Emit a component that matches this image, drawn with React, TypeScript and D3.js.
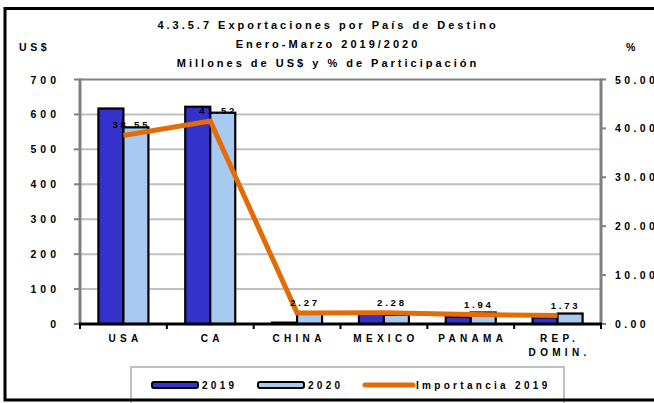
import React from 'react';
import * as d3 from 'd3';

// chart data
const categories = ['USA', 'CA', 'CHINA', 'MEXICO', 'PANAMA', 'REP. DOMIN.'];
const categoryLines = [['USA'], ['CA'], ['CHINA'], ['MEXICO'], ['PANAMA'], ['REP.', 'DOMIN.']];
const series = ['2019', '2020'];
const values2019 = [617, 622, 4, 28, 21, 19];
const values2020 = [563, 605, 30, 26, 33, 30];
const importancia2019 = [38.55, 41.52, 2.27, 2.28, 1.94, 1.73];
const leftTicks = [0, 100, 200, 300, 400, 500, 600, 700];
const rightTicks = [0, 10, 20, 30, 40, 50];
const titleLines = [
  '4.3.5.7 Exportaciones por País de Destino',
  'Enero-Marzo 2019/2020',
  'Millones de US$ y % de Participación',
];

const W = 654;
const H = 403;
const margin = { top: 79.5, right: 53, bottom: 79, left: 80 };
const FONT = '"Liberation Sans", Arial, sans-serif';
const C2019 = '#3333CC';
const C2020 = '#A6CAF0';
const ORANGE = '#E36C09';

export default function App() {
  const x0 = margin.left;
  const x1 = W - margin.right;
  const yTop = margin.top;
  const yBot = H - margin.bottom;

  const x = d3.scaleBand().domain(categories).range([x0, x1]).paddingInner(0.424).paddingOuter(0.212);
  const xs = d3.scaleBand().domain(series).range([0, x.bandwidth()]);
  const y = d3.scaleLinear().domain([0, 700]).range([yBot, yTop]);
  const y2 = d3.scaleLinear().domain([0, 50]).range([yBot, yTop]);
  const step = x.step();

  const line = d3.line<number>()
    .x((d, i) => (x(categories[i]) as number) + x.bandwidth() / 2)
    .y(d => y2(d));

  const bars = categories.flatMap((c, i) => [
    { c, s: '2019', v: values2019[i], fill: C2019 },
    { c, s: '2020', v: values2020[i], fill: C2020 },
  ]);

  const txt = { fontFamily: FONT, fontWeight: 700 as const };

  return (
    <svg width={W} height={H} style={{ position: 'absolute', left: 0, top: 0, background: '#fff' }}>
      {/* titles */}
      {titleLines.map((t, i) => (
        <text key={t} x={328} y={29 + i * 19} textAnchor="middle" fontSize={11} letterSpacing={3} {...txt}>{t}</text>
      ))}
      <text x={19} y={51} fontSize={10.5} letterSpacing={3.6} {...txt}>US$</text>
      <text x={626} y={51} fontSize={10.5} letterSpacing={2.5} {...txt}>%</text>

      {/* grid */}
      {leftTicks.slice(1, -1).map(t => (
        <line key={t} x1={x0} x2={x1} y1={y(t)} y2={y(t)} stroke="#C0C0C0" strokeWidth={2} />
      ))}
      <line x1={x0} x2={x1} y1={y(700)} y2={y(700)} stroke="#808080" strokeWidth={2} />

      {/* left axis */}
      <line x1={x0} x2={x0} y1={yTop - 1} y2={yBot} stroke="#808080" strokeWidth={3} />
      {leftTicks.map(t => (
        <g key={t}>
          <line x1={x0 - 6} x2={x0} y1={y(t)} y2={y(t)} stroke="#808080" strokeWidth={2} />
          <text x={60} y={y(t) + 4} textAnchor="end" fontSize={10.5} letterSpacing={4} {...txt}>{t}</text>
        </g>
      ))}

      {/* right axis */}
      <line x1={x1} x2={x1} y1={yTop - 1} y2={yBot} stroke="#808080" strokeWidth={3} />
      {rightTicks.map(t => (
        <g key={t}>
          <line x1={x1} x2={x1 + 5} y1={y2(t)} y2={y2(t)} stroke="#808080" strokeWidth={2} />
          <text x={615} y={y2(t) + 4} fontSize={10.5} letterSpacing={3.4} {...txt}>{t.toFixed(2)}</text>
        </g>
      ))}

      {/* bars */}
      {bars.map(b => (
        <rect key={b.c + b.s}
          x={(x(b.c) as number) + (xs(b.s) as number)}
          y={y(b.v)}
          width={xs.bandwidth()}
          height={yBot - y(b.v)}
          fill={b.fill} stroke="#000" strokeWidth={2.2} />
      ))}

      {/* bottom axis */}
      <line x1={x0 - 1} x2={x1 + 1} y1={yBot} y2={yBot} stroke="#000" strokeWidth={3} />
      {d3.range(categories.length + 1).map(i => (
        <line key={i} x1={x0 + i * step} x2={x0 + i * step} y1={yBot} y2={yBot + 5} stroke="#000" strokeWidth={2} />
      ))}
      {categories.map((c, i) => categoryLines[i].map((l, j) => (
        <text key={c + j} x={(x(c) as number) + x.bandwidth() / 2 + 2} y={yBot + 18 + j * 14}
          textAnchor="middle" fontSize={10} letterSpacing={4.3} {...txt}>{l}</text>
      )))}

      {/* importancia line */}
      <path d={line(importancia2019) || ''} fill="none" stroke={ORANGE} strokeWidth={5} strokeLinejoin="miter" />
      {importancia2019.map((v, i) => (
        <text key={i} x={(x(categories[i]) as number) + x.bandwidth() / 2 + 8} y={y2(v) - 7}
          textAnchor="middle" fontSize={9.5} letterSpacing={2.8} {...txt}>{v.toFixed(2)}</text>
      ))}

      {/* legend */}
      <rect x={131} y={367} width={433} height={45} fill="none" stroke="#C0C0C0" strokeWidth={2} />
      <rect x={152} y={382} width={46} height={6} rx={2} fill={C2019} stroke="#000" strokeWidth={2} />
      <text x={202} y={389} fontSize={10} letterSpacing={3.3} {...txt}>2019</text>
      <rect x={258} y={382} width={46} height={6} rx={2} fill={C2020} stroke="#000" strokeWidth={2} />
      <text x={308} y={389} fontSize={10} letterSpacing={3.3} {...txt}>2020</text>
      <line x1={365} x2={413} y1={385} y2={385} stroke={ORANGE} strokeWidth={5} strokeLinecap="round" />
      <text x={416} y={389} fontSize={10} letterSpacing={3.3} {...txt}>Importancia 2019</text>

      {/* outer frame */}
      <rect x={5} y={8.5} width={W + 10} height={391.5} fill="none" stroke="#000" strokeWidth={3} />
    </svg>
  );
}
